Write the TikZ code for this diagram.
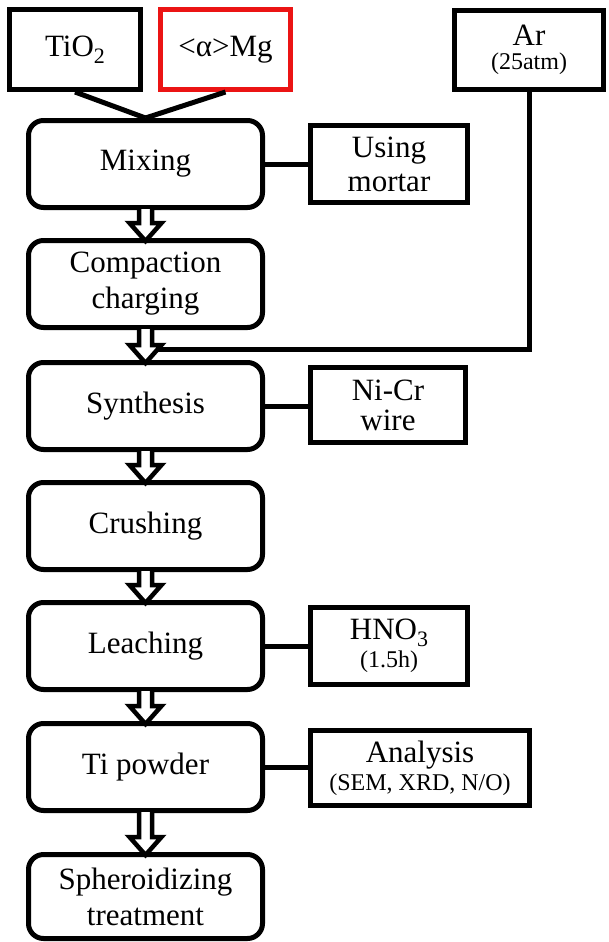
\documentclass[tikz,border=0pt]{standalone}
\usepackage{fontspec}
\setmainfont{Liberation Serif}
\usetikzlibrary{positioning,calc}
\definecolor{MgRed}{RGB}{235,20,20}
\tikzset{
  stage/.style={draw=black,line width=5pt,rounded corners=15pt,fill=white,inner sep=0pt,
    minimum width=234pt,minimum height=87pt,align=center,font=\fontsize{31}{36}\selectfont},
  side/.style={draw=black,line width=5pt,fill=white,inner sep=0pt,
    minimum width=157pt,minimum height=77pt,align=center,font=\fontsize{31}{34}\selectfont},
  link/.style={draw=black,line width=5pt},
  hollow/.style={draw=black,fill=white,line width=4.5pt,line join=miter},
}
\newcommand{\smalltxt}[1]{{\fontsize{24}{24}\selectfont #1}}
\newcommand{\lowsub}[1]{\raisebox{-7pt}{\fontsize{22}{22}\selectfont #1}}

\begin{document}
\begin{tikzpicture}[x=1pt,y=-1pt]
\useasboundingbox (0,0) rectangle (608,942);
% raw materials
\node[side,minimum width=131pt,minimum height=80pt] (tio) at (75,49.5) {TiO\lowsub{2}};
\node[side,draw=MgRed,minimum width=130pt,minimum height=80pt] (mg) at (225.5,49.5) {<α>Mg};
\node[side,minimum width=149pt,minimum height=79pt] (ar) at (529,50) {Ar\\[-10pt]\smalltxt{(25atm)}};
% process steps
\node[stage] (mix) at (145.5,164) {Mixing};
\node[stage] (comp) at (145.5,284) {Compaction\\charging};
\node[stage] (syn) at (145.5,406) {Synthesis};
\node[stage] (crush) at (145.5,526) {Crushing};
\node[stage] (leach) at (145.5,646) {Leaching};
\node[stage] (ti) at (145.5,767) {Ti powder};
\node[stage,minimum height=84pt] (sph) at (145.5,896.5) {Spheroidizing\\treatment};
% conditions
\node[side] (mortar) at (389,164) {Using\\mortar};
\node[side,minimum width=155pt,minimum height=75pt] (wire) at (388,405) {Ni-Cr\\[-4pt]wire};
\node[side] (hno) at (389,646) {HNO\lowsub{3}\\[-6pt]\smalltxt{(1.5h)}};
\node[side,minimum width=219pt,minimum height=75pt] (ana) at (420,768) {Analysis\\[-6pt]\smalltxt{(SEM, XRD, N/O)}};
% connectors
\draw[link] (tio.south) -- (mix.north);
\draw[link] (mg.south) -- (mix.north);
\draw[link] (mix.east) -- (mix.east -| mortar.west);
\draw[link] (syn.east) -- (syn.east -| wire.west);
\draw[link] (leach.east) -- (leach.east -| hno.west);
\draw[link] (ti.east) -- (ti.east -| ana.west);
\coordinate (join) at ($(comp.south)+(8.5,19)$);
\draw[link] (ar.south) |- (join);
% hollow arrows
\foreach \a/\b in {mix/comp,comp/syn,syn/crush,crush/leach,leach/ti,ti/sph}{
  \draw[hollow] ($(\a.south)+(-6.5,-1)$) -- ($(\b.north)+(-6.5,-15)$) -- ($(\b.north)+(-16,-15)$)
    -- ($(\b.north)+(0,3)$) -- ($(\b.north)+(16,-15)$) -- ($(\b.north)+(6.5,-15)$) -- ($(\a.south)+(6.5,-1)$);
}
\end{tikzpicture}
\end{document}
